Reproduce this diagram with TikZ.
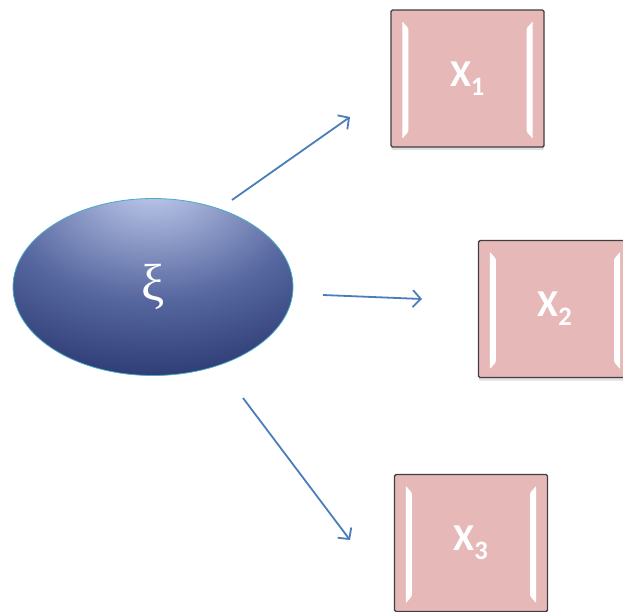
\documentclass[tikz,border=0pt]{standalone}
\usepackage{fontspec}
\setsansfont{Carlito}
\newfontfamily\greekserif{Liberation Serif}
\usetikzlibrary{arrows.meta,calc,shadows,shapes.geometric}
\definecolor{boxfill}{HTML}{E6B9B8}
\definecolor{boxline}{HTML}{3F3F3F}
\definecolor{arrowcol}{HTML}{4A7EBB}
\definecolor{ellLight}{HTML}{B3BFE3}
\definecolor{ellMid}{HTML}{56669F}
\definecolor{ellDark}{HTML}{1D2B63}
\definecolor{ellLine}{HTML}{4BACC6}
\pgfdeclareradialshading{ellshade}{\pgfpoint{0bp}{30bp}}{%
  color(0bp)=(ellLight); color(4bp)=(ellLight); color(26bp)=(ellMid); color(50bp)=(ellDark); color(100bp)=(ellDark)}
\tikzset{
  xbox/.style={draw=boxline, line width=1.4pt, fill=boxfill, minimum width=153pt, minimum height=137pt,
    inner sep=0pt, rounded corners=1.5pt, text=white, font=\sffamily\bfseries\fontsize{38}{44}\selectfont,
    drop shadow={shadow xshift=0pt, shadow yshift=-3pt, opacity=0.25, fill=gray}},
  hilite/.style={fill=white, rounded corners=1pt},
  conn/.style={draw=arrowcol, line width=1.8pt, -{Straight Barb[length=8pt,width=17pt,line width=1.8pt]}},
}
\newcommand{\bevels}[1]{%
  \fill[hilite] ($(#1.north west)+(12,12)$) -- ($(#1.north west)+(18,19)$) -- ($(#1.south west)+(18,-16)$) -- ($(#1.south west)+(12,-9)$) -- cycle;
  \fill[hilite] ($(#1.north east)+(-12,12)$) -- ($(#1.north east)+(-18,19)$) -- ($(#1.south east)+(-18,-16)$) -- ($(#1.south east)+(-12,-9)$) -- cycle;
}
\begin{document}
\begin{tikzpicture}[x=1pt,y=-1pt]
\useasboundingbox (0,0) rectangle (623,611);
\clip (0,0) rectangle (623,611);
\node[ellipse, minimum width=280pt, minimum height=177pt, draw=ellLine, line width=0.8pt, shading=ellshade,
  text=white, font=\greekserif\fontsize{52}{58}\selectfont, inner sep=0pt] (xi) at (153,287) {ξ};
\node[xbox] (x1) at (467.5,78.5) {X\textsubscript{1}};
\node[xbox] (x2) at (555,309) {X\textsubscript{2}};
\node[xbox] (x3) at (471,543) {X\textsubscript{3}};
\bevels{x1}
\bevels{x2}
\bevels{x3}
\coordinate (a1s) at (232,200);
\coordinate (a1e) at (350,117);
\coordinate (a2s) at (323,295);
\coordinate (a2e) at (422,299);
\coordinate (a3s) at (243,398);
\coordinate (a3e) at (350,540);
\draw[conn] (a1s) -- (a1e);
\draw[conn] (a2s) -- (a2e);
\draw[conn] (a3s) -- (a3e);
\end{tikzpicture}
\end{document}
